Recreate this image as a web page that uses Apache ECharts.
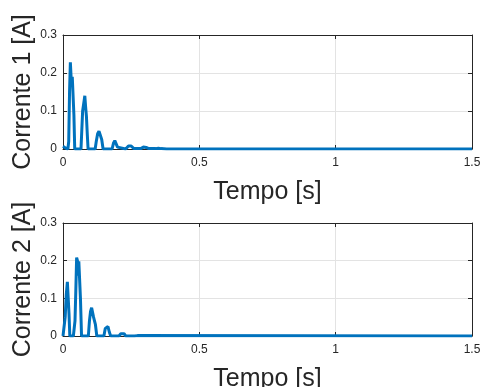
<!DOCTYPE html>
<html>
<head>
<meta charset="utf-8">
<script src="https://cdn.jsdelivr.net/npm/echarts@6/dist/echarts.min.js"></script>
<style>
html,body{margin:0;padding:0;background:#fff;}
#main{width:480px;height:387px;}
</style>
</head>
<body>
<div id="main"></div>
<script>
// tempo e corrente 1
var tempo1 = [0, 0.004, 0.008, 0.012, 0.018, 0.021, 0.024, 0.027, 0.031, 0.034, 0.037, 0.040, 0.043,
    0.066, 0.069, 0.072, 0.075, 0.078, 0.080, 0.083, 0.086, 0.089, 0.092,
    0.118, 0.122, 0.127, 0.132, 0.137, 0.142, 0.147,
    0.180, 0.185, 0.190, 0.195, 0.200, 0.205,
    0.230, 0.240, 0.245, 0.250, 0.260, 0.285, 0.295, 0.300, 0.305, 0.315, 0.340, 0.350, 0.360, 0.380, 1.5];
var corrente1 = [0.007, 0.006, 0.003, 0, 0, 0.02, 0.15, 0.228, 0.17, 0.19, 0.185, 0.09, 0,
    0, 0.05, 0.1, 0.1, 0.13, 0.14, 0.11, 0.085, 0.04, 0,
    0, 0.02, 0.04, 0.047, 0.045, 0.025, 0,
    0, 0.015, 0.022, 0.018, 0.005, 0,
    0, 0.008, 0.01, 0.008, 0.001, 0.001, 0.005, 0.006, 0.004, 0.001, 0.001, 0.002, 0.001, 0, 0];
// tempo e corrente 2
var tempo2 = [0, 0.004, 0.008, 0.012, 0.016, 0.019, 0.022, 0.025,
    0.038, 0.041, 0.044, 0.047, 0.050, 0.053, 0.055, 0.058, 0.061, 0.064, 0.068,
    0.093, 0.097, 0.101, 0.105, 0.109, 0.112, 0.115, 0.119, 0.124,
    0.150, 0.155, 0.160, 0.165, 0.170, 0.175,
    0.205, 0.212, 0.218, 0.224, 0.230, 0.262, 0.268, 0.273, 0.280, 1.5];
var corrente2 = [0, 0, 0.05, 0.11, 0.144, 0.14, 0.06, 0,
    0, 0.02, 0.04, 0.12, 0.208, 0.2, 0.16, 0.198, 0.195, 0.1, 0,
    0, 0.04, 0.065, 0.075, 0.07, 0.05, 0.055, 0.03, 0,
    0, 0.02, 0.025, 0.025, 0.01, 0,
    0, 0.006, 0.009, 0.006, 0, 0, 0.003, 0.001, 0, 0];
var xTicks = [0, 0.5, 1, 1.5];
var yTicks = [0, 0.1, 0.2, 0.3];

function pares(t, c) {
    var out = [];
    for (var i = 0; i < t.length; i++) out.push([t[i], c[i]]);
    return out;
}

var fonte = '"Liberation Sans", Arial, sans-serif';
var corTexto = '#262626';

function eixoX(idx, nome, principal) {
    return {
        type: 'value', gridIndex: idx, min: 0, max: 1.5, interval: 0.5,
        position: principal ? 'bottom' : 'top',
        name: principal ? nome : '', nameLocation: 'middle', nameGap: 31, nameMoveOverlap: false,
        nameTextStyle: {fontSize: 25, color: corTexto, fontFamily: fonte},
        axisLine: {show: true, onZero: false, lineStyle: {color: corTexto, width: 1}},
        axisTick: {show: true, inside: true, length: 4, lineStyle: {color: corTexto}},
        axisLabel: {show: principal, color: corTexto, fontSize: 12, fontFamily: fonte, margin: 8,
            showMinLabel: true, showMaxLabel: true,
            formatter: function (v) { return xTicks.indexOf(v) >= 0 ? String(v) : ''; }},
        splitLine: {show: principal, lineStyle: {color: '#e3e3e3', width: 1}}
    };
}
function eixoY(idx, nome, principal) {
    return {
        type: 'value', gridIndex: idx, min: 0, max: 0.3, interval: 0.1,
        position: principal ? 'left' : 'right',
        name: principal ? nome : '', nameLocation: 'middle', nameGap: 27, nameRotate: 90, nameMoveOverlap: false,
        nameTextStyle: {fontSize: 25, color: corTexto, fontFamily: fonte},
        axisLine: {show: true, onZero: false, lineStyle: {color: corTexto, width: 1}},
        axisTick: {show: true, inside: true, length: 4, lineStyle: {color: corTexto}},
        axisLabel: {show: principal, color: corTexto, fontSize: 12, fontFamily: fonte, margin: 6,
            showMinLabel: true, showMaxLabel: true,
            formatter: function (v) { var r = Math.round(v * 10) / 10; return yTicks.indexOf(r) >= 0 ? String(r) : ''; }},
        splitLine: {show: principal, lineStyle: {color: '#e3e3e3', width: 1}}
    };
}

var myChart = echarts.init(document.getElementById('main'), null, {renderer: 'canvas'});
var option = {
    backgroundColor: '#fff',
    animation: false,
    grid: [
        {left: 63, top: 35, width: 409, height: 114, outerBoundsMode: 'none'},
        {left: 63, top: 223, width: 409, height: 113, outerBoundsMode: 'none'}
    ],
    xAxis: [eixoX(0, 'Tempo [s]', true), eixoX(0, '', false), eixoX(1, 'Tempo [s]', true), eixoX(1, '', false)],
    yAxis: [eixoY(0, 'Corrente 1 [A]', true), eixoY(0, '', false), eixoY(1, 'Corrente 2 [A]', true), eixoY(1, '', false)],
    series: [
        {
            type: 'line', xAxisIndex: 0, yAxisIndex: 0, data: pares(tempo1, corrente1),
            showSymbol: false, lineStyle: {color: '#0072BD', width: 3}, z: 5
        },
        {
            type: 'line', xAxisIndex: 2, yAxisIndex: 2, data: pares(tempo2, corrente2),
            showSymbol: false, lineStyle: {color: '#0072BD', width: 3}, z: 5
        }
    ]
};
myChart.setOption(option);
</script>
</body>
</html>
